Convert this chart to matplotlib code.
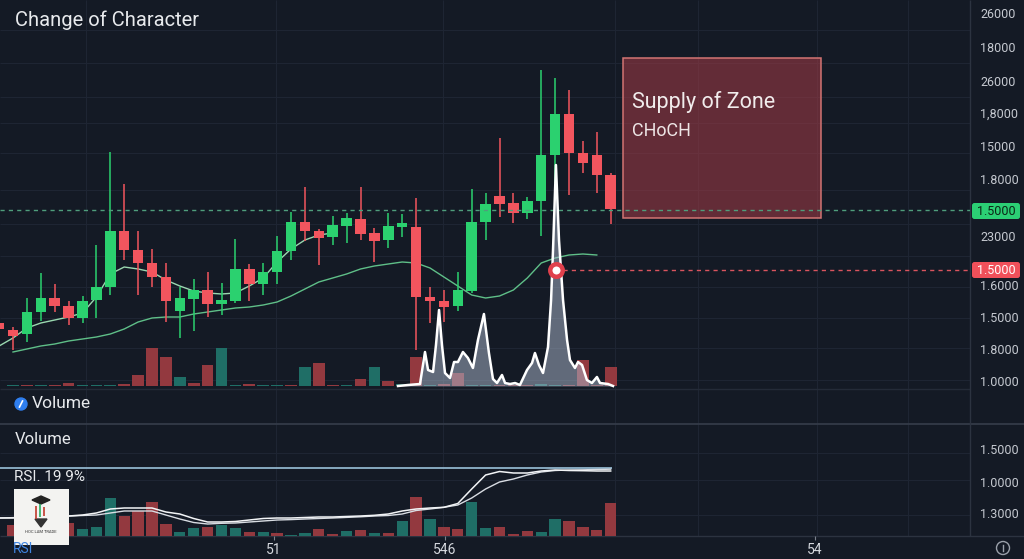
import matplotlib
matplotlib.use("Agg")
import matplotlib.pyplot as plt
from matplotlib.patches import Rectangle, Circle, FancyBboxPatch, Polygon

plt.rcParams['font.family'] = ['Roboto', 'DejaVu Sans']

# ---------------- data ----------------
candle_idx = list(range(-1, 44))
opens = [67, 60, 56, 78, 92, 84, 72, 90, 103, 159, 140, 127, 113, 79, 91, 100, 86, 89, 121, 106,
         118, 139, 168, 159, 153, 164, 171, 157, 150, 163, 163, 93, 89, 84, 99, 168, 194, 187, 177, 189,
         235, 276, 237, 235, 215]
closes = [61, 54, 78, 92, 84, 72, 89, 103, 159, 140, 127, 113, 89, 92, 100, 86, 90, 121, 106, 118,
          139, 168, 159, 152, 165, 172, 156, 149, 164, 167, 93, 89, 83, 100, 168, 186, 186, 177, 189, 235,
          276, 237, 227, 215, 181]
highs = [69, 63, 92, 117, 106, 89, 94, 145, 238, 206, 159, 141, 127, 103, 111, 118, 107, 151, 126, 127,
         154, 178, 203, 161, 174, 177, 203, 162, 177, 176, 192, 103, 100, 118, 201, 197, 252, 197, 193, 320,
         312, 300, 249, 258, 217]
lows = [59, 40, 48, 69, 78, 65, 67, 72, 95, 130, 95, 103, 68, 52, 59, 73, 75, 87, 89, 95,
        106, 130, 149, 125, 145, 147, 150, 128, 142, 153, 40, 67, 68, 79, 97, 150, 173, 167, 171, 154,
        207, 195, 217, 197, 166]

fast_ma_idx = list(range(-1, 24))
fast_ma = [44, 52, 62, 67, 70, 73, 77, 93, 116, 123, 121, 118, 110, 104, 99, 97, 96, 97, 104, 112,
           128, 141, 150, 155, 157]
slow_ma_idx = list(range(0, 43))
slow_ma = [38, 41, 44, 46, 49, 51, 53, 56, 61, 68, 72, 73, 73, 76, 78, 80, 82, 83, 85, 88,
           94, 101, 108, 112, 116, 121, 124, 126, 128, 127, 122, 113, 104, 95, 92, 94, 100, 112, 127, 132,
           135, 136, 135]

vol_idx = list(range(0, 44))
vol_main = [1, 1, 1, 1, 3, 1, 1, 1, 2, 11, 38, 29, 9, 3, 21, 38, 1, 2, 1, 1,
            1, 19, 23, 1, 1, 7, 19, 5, 2, 29, 1, 2, 13, 1, 1, 1, 1, 1, 2, 1,
            1, 26, 1, 19]
vol_main_up = [1, 0, 1, 0, 0, 1, 1, 1, 0, 0, 0, 0, 1, 0, 0, 1, 1, 0, 1, 1,
               0, 1, 0, 0, 1, 0, 1, 0, 1, 0, 1, 0, 0, 1, 1, 0, 0, 0, 1, 1,
               0, 0, 0, 0]
vol_low = [11, 6, 8, 5, 13, 7, 9, 38, 20, 25, 34, 12, 4, 8, 9, 11, 8, 4, 4, 3,
           1, 3, 7, 2, 5, 6, 3, 3, 15, 39, 17, 9, 7, 34, 8, 9, 2, 5, 4, 17,
           15, 9, 6, 33]
vol_low_up = [0, 1, 0, 1, 0, 1, 1, 1, 0, 0, 0, 0, 1, 1, 0, 1, 1, 0, 1, 0,
              1, 1, 0, 0, 1, 0, 1, 0, 1, 0, 1, 0, 0, 1, 1, 0, 0, 0, 1, 1,
              0, 0, 0, 0]

rsi_idx = list(range(-1, 44))
rsi_a = [18, 18, 19, 19, 20, 20, 21, 23, 27, 28, 28, 28, 24, 22, 17.5, 14, 14, 14.5, 16, 17.5,
         18, 18, 18.5, 19, 19, 19.5, 20, 20.7, 22, 25, 27, 28, 28.7, 32.5, 47, 61, 64.5, 63, 63, 65,
         66, 65.5, 65.3, 65, 65]
rsi_b = [18, 18.4, 19, 19, 20, 20, 20.5, 21, 23, 25, 25, 25, 21, 17, 13.5, 12, 12.7, 13, 14, 15,
         16, 16.4, 17, 17.5, 18, 18.6, 19.2, 20, 20.5, 22, 25.5, 27, 28.7, 31, 38, 47, 54, 57, 61, 64,
         65.5, 66, 66.2, 66.5, 66.8]
rsi_level = 68

spike_idx = [27.70, 28.42, 29.28, 29.64, 29.86, 30.22, 30.43, 30.65, 30.86, 31.08, 31.44, 31.73,
             32.01, 32.37, 32.73, 33.09, 33.45, 33.88, 34.24, 34.53, 34.82, 35.18, 35.40, 35.76,
             36.12, 36.47, 36.98, 37.34, 37.55, 37.84, 38.13, 38.49, 38.71, 38.85, 39.06, 39.28,
             39.57, 39.86, 40.07, 40.43, 40.65, 40.94, 41.29, 41.65, 42.01, 42.23, 42.81, 43.17]
spike_val = [0, 1, 2, 34, 16, 14, 41, 76, 41, 13, 8, 24, 24, 34, 28, 18, 46, 72, 33, 7, 3, 11, 3, 2,
             3, 1, 16, 23, 33, 21, 13, 39, 86, 136, 221, 146, 86, 46, 26, 18, 24, 21, 6, 3, 9, 3, 2, 0]

price_ticks = [377, 343, 309, 277, 244, 211, 154, 105, 73, 41, 9]
price_labels = ['26000', '18000', '26000', '1,8000', '15000', '1.8000', '23000',
                '1.6000', '1.5000', '1.8000', '1.0000']
low_ticks = [87, 54, 23]
low_labels = ['1.5000', '1.0000', '1.3000']
x_ticks = [18.78, 31.08, 57.7]
x_labels = ['51', '546', '54']

support_level = 180
choch_level = 120
choch_idx = 39.06
zone_start, zone_end = 43.9, 58.1
zone_low, zone_high = 172, 332

# ---------------- style ----------------
W, H = 1024, 559
BG = '#141a25'
GRID = '#1e2533'
UP = '#2bd16f'
DOWN = '#f2555e'
VUP = '#1f6e66'
VDOWN = '#93393f'
TXT = '#e8eaed'
AXTXT = '#c5c9d0'
PX0, STEP = 13.0, 13.9
XL = ((0 - PX0) / STEP, (970 - PX0) / STEP)


def box(x0, y0, x1, y1):
    return [x0 / W, 1 - y1 / H, (x1 - x0) / W, (y1 - y0) / H]


fig = plt.figure(figsize=(W / 100, H / 100), dpi=100, facecolor=BG)

# background layer: grid + separators (pixel coordinates)
bg = fig.add_axes([0, 0, 1, 1], zorder=0)
bg.set_xlim(0, W)
bg.set_ylim(H, 0)
bg.axis('off')
bg.add_patch(Rectangle((0, 0), W, H, color=BG))
for gy in [30, 63, 97, 123, 153, 190, 224, 256, 287, 318, 348, 380, 453, 480, 515]:
    bg.hlines(gy, 0, 970, color=GRID, lw=0.8)
for gx in [86, 276, 443, 615, 698, 817, 908]:
    bg.vlines(gx, 0, 536, color=GRID, lw=0.8)
bg.hlines(389, 0, 970, color='#242b38', lw=1.0)
bg.hlines(423.5, 0, W, color='#363d4b', lw=1.2)
bg.hlines(536, 0, W, color='#2c3340', lw=1.0)
bg.vlines(970, 0, 536, color='#2c3340', lw=1.0)

# ---------------- main price panel ----------------
ax = fig.add_axes(box(0, 0, 970, 390), zorder=2)
ax.patch.set_alpha(0)
ax.set_xlim(XL)
ax.set_ylim(0, 390)
for s in ax.spines.values():
    s.set_visible(False)
ax.set_xticks([])
ax.yaxis.tick_right()
ax.set_yticks(price_ticks, price_labels)
ax.tick_params(axis='y', length=0, pad=7.5, labelsize=9, labelcolor=AXTXT)

# supply zone
ax.add_patch(Rectangle((zone_start, zone_low), zone_end - zone_start, zone_high - zone_low,
                       facecolor='#a53c46', alpha=0.55, edgecolor='none', zorder=1))
ax.add_patch(Rectangle((zone_start, zone_low), zone_end - zone_start, zone_high - zone_low,
                       facecolor='none', edgecolor='#d27472', lw=1.1, zorder=1.1))

# moving averages
ax.plot(slow_ma_idx, slow_ma, color='#5fbf88', lw=1.0, zorder=2)
ax.plot(fast_ma_idx, fast_ma, color='#9ad8b0', lw=1.0, zorder=2)

# candles
for i, o, c, hi, lo in zip(candle_idx, opens, closes, highs, lows):
    col = UP if c >= o else DOWN
    ax.vlines(i, lo, hi, color=col, lw=1.1, zorder=3)
    ax.bar(i, abs(c - o), bottom=min(o, c), width=0.76, color=col, zorder=4, linewidth=0)

# levels
ax.axhline(support_level, color='#4f9e7c', lw=1.0, ls=(0, (3, 3)), zorder=5)
ax.hlines(choch_level, choch_idx + 0.5, XL[1], color='#d9545e', lw=1.0, ls=(0, (3, 3)), zorder=5)

# volume overlay on price panel
axv = fig.add_axes(box(0, 0, 970, 390), zorder=3, sharex=ax)
axv.patch.set_alpha(0)
axv.set_ylim(-4, 386)
axv.axis('off')
axv.bar(vol_idx, vol_main, width=0.84,
        color=[VUP if u else VDOWN for u in vol_main_up], linewidth=0, zorder=1)
axv.fill_between(spike_idx, 0, spike_val, color='#aebbd0', alpha=0.5, linewidth=0, zorder=2)
axv.plot(spike_idx, spike_val, color='white', lw=1.8, zorder=3)

# CHoCH marker (drawn on price axis coordinates, on top)
axm = fig.add_axes(box(0, 0, 970, 390), zorder=4, sharex=ax)
axm.patch.set_alpha(0)
axm.set_ylim(0, 390)
axm.axis('off')
axm.plot([choch_idx], [choch_level], 'o', ms=9, mfc='white', mec='#e0404c', mew=3.2)

# ---------------- lower panel ----------------
axl = fig.add_axes(box(0, 425, 970, 536), zorder=2)
axl.patch.set_alpha(0)
axl.set_xlim(XL)
axl.set_ylim(0, 111)
for s in axl.spines.values():
    s.set_visible(False)
axl.yaxis.tick_right()
axl.set_yticks(low_ticks, low_labels)
axl.tick_params(axis='y', length=0, pad=7.5, labelsize=9, labelcolor=AXTXT)
axl.set_xticks(x_ticks, x_labels)
axl.tick_params(axis='x', length=3, width=0.8, color='#7b818c', labelsize=10,
                labelcolor='#d5d8de', pad=2)
axl.bar(vol_idx, vol_low, width=0.82,
        color=[VUP if u else VDOWN for u in vol_low_up], linewidth=0, zorder=1)
axl.hlines(rsi_level, XL[0], 43.1, color='#8fb4cc', lw=1.3, zorder=2)
axl.plot(rsi_idx, rsi_b, color='#d9dde3', lw=1.0, zorder=3)
axl.plot(rsi_idx, rsi_a, color='#f2f4f6', lw=1.1, zorder=3)

# ---------------- overlay texts / decorations ----------------
ov = fig.add_axes([0, 0, 1, 1], zorder=6)
ov.set_xlim(0, W)
ov.set_ylim(H, 0)
ov.axis('off')
ov.patch.set_alpha(0)

ov.text(15, 20, 'Change of Character', fontsize=14.5, color=TXT, va='center', ha='left')
ov.text(632, 102, 'Supply of Zone', fontsize=15.5, color='#f1ecec', va='center', ha='left')
ov.text(632, 131, 'CHoCH', fontsize=13, color='#eee6e6', va='center', ha='left')

# price labels
ov.add_patch(FancyBboxPatch((972, 203), 48, 16, boxstyle='round,pad=0,rounding_size=2.5',
                            facecolor='#2bcf74', edgecolor='none'))
ov.text(996, 211.5, '1.5000', fontsize=9, color='#0c2616', ha='center', va='center')
ov.add_patch(FancyBboxPatch((972, 262), 48, 16, boxstyle='round,pad=0,rounding_size=2.5',
                            facecolor='#f0505a', edgecolor='none'))
ov.text(996, 270.5, '1.5000', fontsize=9, color='white', ha='center', va='center')

# Volume row
ov.add_patch(Circle((21, 404), 6, color='#2f7ff0'))
ov.plot([19.5, 22.5], [407, 401], color='white', lw=1.2)
ov.text(32, 404, 'Volume', fontsize=12.5, color=TXT, va='center', ha='left')

ov.text(15, 440, 'Volume', fontsize=12, color=TXT, va='center', ha='left')
ov.text(14, 477, 'RSI. 19 9%', fontsize=11, color=TXT, va='center', ha='left')
ov.text(13, 549, 'RSI', fontsize=10, color='#3f84e0', va='center', ha='left')

# logo box
ov.add_patch(Rectangle((14, 489), 55, 56, facecolor='#f3f3f1', edgecolor='none'))
ov.add_patch(Polygon([[32, 500], [41, 496], [50, 500], [41, 504]], closed=True, color='#222'))
ov.vlines([36, 40, 44], [506, 504, 507], [519, 517, 516], colors=['#c0392b', '#27ae60', '#c0392b'], lw=1.2)
ov.add_patch(Polygon([[35, 519], [47, 519], [41, 527]], closed=True, color='#333'))
ov.text(41, 532, 'HOC LAM TRADE', fontsize=3, color='#333', ha='center', va='center')

# bottom-right icon
ov.add_patch(Circle((1003, 548), 6.5, facecolor='none', edgecolor='#9aa0aa', lw=1.0))
ov.plot([1003, 1003], [545, 551], color='#9aa0aa', lw=1.0)

fig.savefig('out.png', dpi=100, facecolor=BG)
